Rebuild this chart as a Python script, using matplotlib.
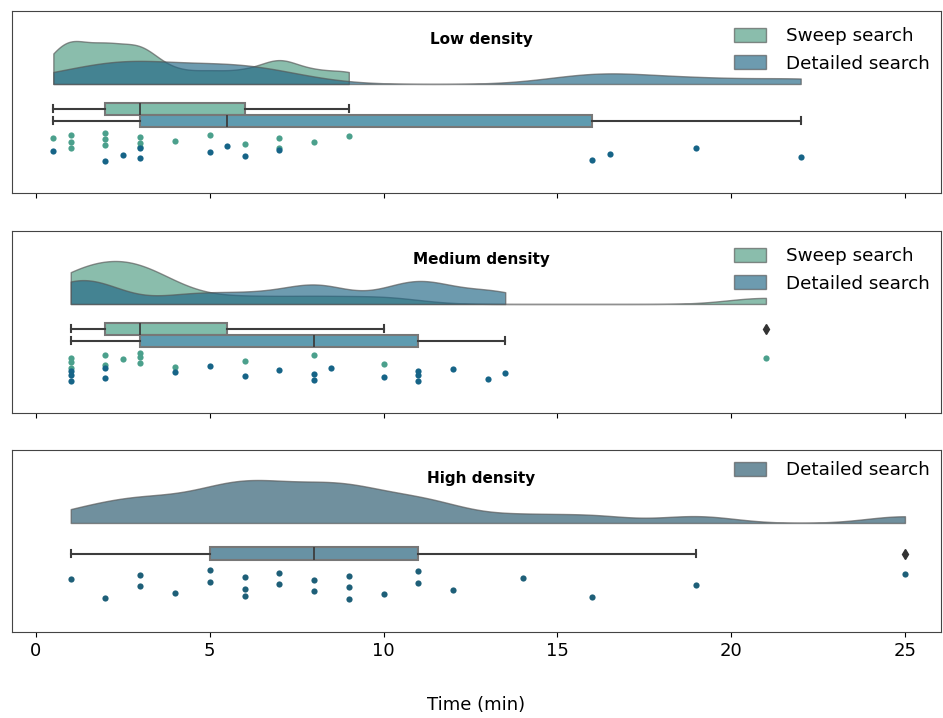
import numpy as np
import matplotlib.pyplot as plt
from matplotlib.patches import Patch

# Search times in minutes
low_sweep = [0.5, 1, 1, 1, 2, 2, 2, 3, 3, 3, 4, 5, 6, 7, 7, 8, 9]
low_detailed = [0.5, 2, 2.5, 3, 3, 5, 5.5, 6, 7, 16, 16.5, 19, 22]
med_sweep = [1, 1, 1, 2, 2, 2.5, 3, 3, 3, 4, 6, 8, 10, 21]
med_detailed = [1, 1, 1, 2, 2, 4, 5, 6, 7, 8, 8, 8.5, 10, 11, 11, 11, 12, 13, 13.5]
high_detailed = [1, 2, 3, 3, 4, 5, 5, 6, 6, 6, 7, 7, 8, 8, 9, 9, 9, 10, 11, 11,
                 12, 14, 16, 19, 25]

titles = ["Low density", "Medium density", "High density"]
labels = ["Sweep search", "Detailed search"]
x_ticks = [0, 5, 10, 15, 20, 25]

# colours: (violin, box, points)
c_sweep = ("#4c9a80", "#80bcaa", "#4ba08c")
c_detail = ("#1f6585", "#5e9bb0", "#166487")
c_high = ("#23556a", "#6892a4", "#1e5f78")

panels = [
    (titles[0], [(labels[0], low_sweep, c_sweep), (labels[1], low_detailed, c_detail)]),
    (titles[1], [(labels[0], med_sweep, c_sweep), (labels[1], med_detailed, c_detail)]),
    (titles[2], [(labels[1], high_detailed, c_high)]),
]


def kde(vals, grid, bw=0.2):
    vals = np.asarray(vals, float)
    h = bw * vals.std(ddof=1)
    z = (grid[:, None] - vals[None, :]) / h
    return np.exp(-0.5 * z ** 2).sum(1) / (len(vals) * h * np.sqrt(2 * np.pi))


fig = plt.figure(figsize=(9.43, 7.18), dpi=100)
ax_h = 0.2535
bottoms = [0.7312, 0.4248, 0.1198]
axes = []
for i, b in enumerate(bottoms):
    ax = fig.add_axes([0.0127, b, 0.9853, ax_h], sharex=axes[0] if axes else None)
    axes.append(ax)

# vertical layout in axes pixel units (0 = top)
base = 73
v_height = 43

for ax, (title, groups) in zip(axes, panels):
    n = len(groups)
    if n == 2:
        box_y = [98, 110]
        box_w = 12
        strip_y = [130, 143]
        jit = 8
        leg_top = 0.97
    else:
        box_y = [104]
        box_w = 13
        strip_y = [135]
        jit = 15
        leg_top = 1.0

    # half violins, scaled by the largest density in the panel
    dens = []
    for lab, vals, cols in groups:
        grid = np.linspace(min(vals), max(vals), 400)
        dens.append((grid, kde(vals, grid)))
    dmax = max(d.max() for g, d in dens)
    for (lab, vals, cols), (grid, d) in zip(groups, dens):
        ax.fill_between(grid, base, base - d / dmax * v_height, color=cols[0],
                        alpha=0.65, edgecolor="#555555", linewidth=1, zorder=1)

    # boxes
    for k, (lab, vals, cols) in enumerate(groups):
        ax.boxplot(vals, positions=[box_y[k]], widths=box_w, orientation="horizontal",
                   patch_artist=True, manage_ticks=False, capwidths=7,
                   boxprops=dict(facecolor=cols[1], edgecolor="#777777", linewidth=1.5),
                   whiskerprops=dict(color="#3d3d3d", linewidth=1.5),
                   capprops=dict(color="#3d3d3d", linewidth=1.5),
                   medianprops=dict(color="#3d3d3d", linewidth=1.3),
                   flierprops=dict(marker="d", markerfacecolor="#333333",
                                   markeredgecolor="#333333", markersize=5),
                   zorder=3)

    # rain (deterministic jitter)
    for k, (lab, vals, cols) in enumerate(groups):
        idx = np.arange(len(vals))
        off = ((idx * 0.618034 + 0.3) % 1 - 0.5) * 2 * jit
        ax.scatter(vals, strip_y[k] + off, s=20, color=cols[2], zorder=4, linewidths=0)

    ax.set_ylim(182, 0)
    ax.set_yticks([])
    ax.text(0.505, 0.845, title, transform=ax.transAxes, ha="center", va="center",
            fontsize=11, fontweight="bold")
    handles = [Patch(facecolor=cols[0], alpha=0.65, edgecolor="#555555", label=lab)
               for lab, vals, cols in groups]
    ax.legend(handles=handles, loc="upper right", bbox_to_anchor=(1.0, leg_top),
              frameon=False, fontsize=13.2, handlelength=1.75, handleheight=0.8,
              handletextpad=1.1, borderaxespad=0.2)
    for s in ax.spines.values():
        s.set_color("#444444")

axes[0].set_xlim(-0.69, 26.04)
axes[0].set_xticks(x_ticks)
for ax in axes[:2]:
    ax.tick_params(labelbottom=False)
axes[2].tick_params(axis="x", labelsize=13)
axes[2].set_xlabel("Time (min)", fontsize=13, labelpad=26)

fig.savefig("out.png", dpi=100)
